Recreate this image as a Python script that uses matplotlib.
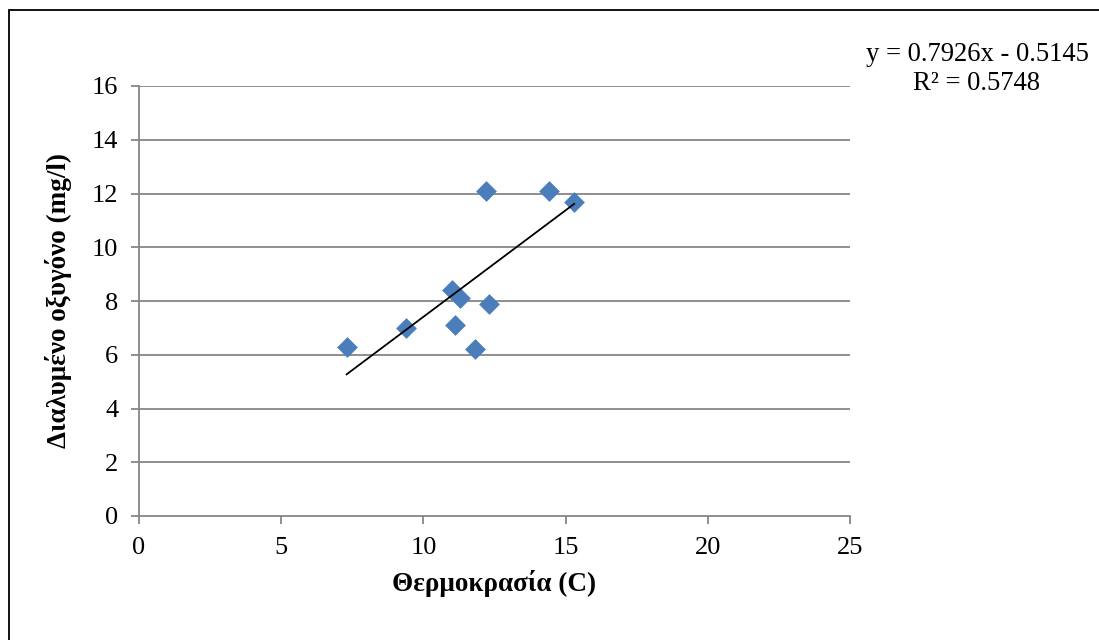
import matplotlib
matplotlib.use("Agg")
import matplotlib.pyplot as plt
from matplotlib.patches import Rectangle

# temperature (C) vs dissolved oxygen (mg/l)
temperature = [7.3, 9.4, 11.0, 11.3, 11.1, 11.8, 12.2, 12.3, 14.4, 15.3]
oxygen = [6.3, 7.0, 8.4, 8.1, 7.1, 6.2, 12.1, 7.9, 12.1, 11.7]

slope = 0.7926
intercept = -0.5145
r_squared = 0.5748

x_ticks = [0, 5, 10, 15, 20, 25]
y_ticks = [0, 2, 4, 6, 8, 10, 12, 14, 16]

plt.rcParams['font.family'] = ['Liberation Serif', 'DejaVu Serif']

fig = plt.figure(figsize=(10.99, 6.40), dpi=100)
ax = fig.add_axes([139/1099, 1 - 516/640, (850 - 139)/1099, (516 - 86)/640])

grid_col = '#868686'
for yv in y_ticks[1:]:
  ax.axhline(yv, color=grid_col, lw=1.3, zorder=1)

ax.scatter(temperature, oxygen, marker='D', s=112, color='#4a7ebb', zorder=3, linewidths=0)

x0, x1 = min(temperature), max(temperature)
ax.plot([x0, x1], [slope*x0 + intercept, slope*x1 + intercept], color='black', lw=1.3, zorder=4)

ax.set_xlim(0, 25)
ax.set_ylim(0, 16)
ax.set_xticks(x_ticks)
ax.set_yticks(y_ticks)
ax.tick_params(labelsize=19, colors=grid_col, labelcolor='black', length=6, width=1.3)
ax.tick_params(axis='y', pad=9)
ax.tick_params(axis='x', pad=9)
for s in ['top', 'right']:
  ax.spines[s].set_visible(False)
for s in ['left', 'bottom']:
  ax.spines[s].set_color(grid_col)
  ax.spines[s].set_linewidth(1.3)

ax.set_xlabel('Θερμοκρασία (C)', fontsize=19.5, fontweight='bold', labelpad=8)
ax.set_ylabel('Διαλυμένο οξυγόνο (mg/l)', fontsize=19.5, fontweight='bold', labelpad=14)

fig.text(977/1099, 1 - 69/640, 'y = %.4fx - %.4f\nR² = %.4f' % (slope, -intercept, r_squared),
         ha='center', va='center', multialignment='center', fontsize=19.2, linespacing=1.25)

fig.patches.append(Rectangle((9/1099, -0.1), 1.2, 1 - 10/640 + 0.1, transform=fig.transFigure,
                             fill=False, edgecolor='black', lw=1.3))

fig.savefig('out.png', dpi=100)
